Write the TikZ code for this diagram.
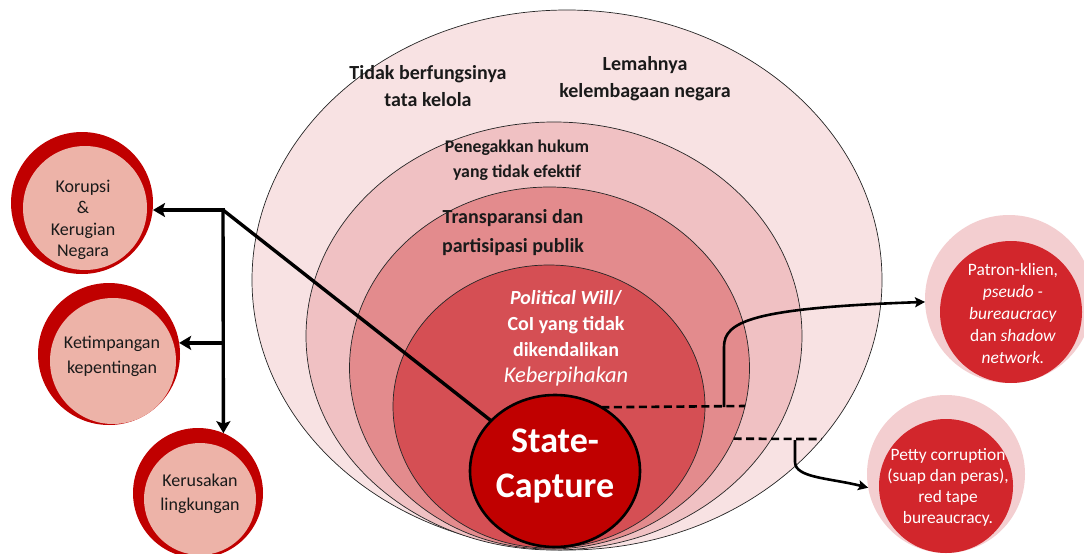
\documentclass[tikz,border=0pt]{standalone}
\usepackage{fontspec}
\setmainfont{Carlito}
\usetikzlibrary{shapes.geometric,arrows.meta}
\definecolor{eA}{HTML}{F8E2E3}
\definecolor{eB}{HTML}{F0C1C3}
\definecolor{eC}{HTML}{E38B8D}
\definecolor{eD}{HTML}{D54F54}
\definecolor{capred}{HTML}{C00000}
\definecolor{salmon}{HTML}{EDB3A8}
\definecolor{pinkring}{HTML}{F3CED0}
\definecolor{redcore}{HTML}{D2262C}
\definecolor{txt}{HTML}{1A1A1A}
\begin{document}
\begin{tikzpicture}[x=1pt,y=-1pt,
  ring/.style={ellipse, draw=black!85, line width=0.7pt, inner sep=0pt, outer sep=0pt},
  disc/.style={circle, inner sep=0pt, outer sep=0pt},
  lbl/.style={align=center, inner sep=0pt, text=txt},
  bigarrow/.style={line width=3.4pt, -{Stealth[length=12pt,width=14pt,inset=2.5pt]}},
  smallarrow/.style={line width=2.6pt, -{Stealth[length=10pt,width=10pt,inset=2pt]}},
  dashline/.style={line width=2.6pt, dash pattern=on 8pt off 4.5pt}
]
\useasboundingbox (0,0) rectangle (1084,554);

% nested ellipses
\node[ring, fill=eA, minimum width=630pt, minimum height=540pt] (e1) at (567,280) {};
\node[ring, fill=eB, minimum width=496pt, minimum height=428pt] (e2) at (554,336) {};
\node[ring, fill=eC, minimum width=400pt, minimum height=362pt] (e3) at (549.5,368) {};
\node[ring, fill=eD, minimum width=312pt, minimum height=283pt] (e4) at (549,406.5) {};
\node[ellipse, draw=black, line width=2.6pt, fill=capred, inner sep=0pt, outer sep=0pt,
      minimum width=170pt, minimum height=152pt] (sc) at (555,471) {};

% texts in ellipses
\node[lbl, font=\fontsize{20}{27}\selectfont\bfseries] (t1) at (428,86) {Tidak berfungsinya\\tata kelola};
\node[lbl, font=\fontsize{20}{27}\selectfont\bfseries] (t2) at (645,79) {Lemahnya\\kelembagaan negara};
\node[lbl, font=\fontsize{17.8}{25}\selectfont\bfseries] (t3) at (517,160) {Penegakkan hukum\\yang tidak efektif};
\node[lbl, font=\fontsize{20}{29}\selectfont\bfseries] (t4) at (513,233) {Transparansi dan\\partisipasi publik};
\node[lbl, text=white, font=\fontsize{20}{26}\selectfont\bfseries] (t5) at (566,338)
  {\textit{Political Will}/\\CoI yang tidak\\dikendalikan\\{\fontsize{22.5}{27}\selectfont\mdseries\itshape Keberpihakan}};
\node[lbl, text=white, font=\fontsize{36}{45}\selectfont\bfseries] (t6) at (555,466) {State-\\Capture};

% left circles
\node[disc, fill=capred, minimum size=142pt] (k1) at (82,203) {};
\node[disc, fill=salmon, minimum size=124pt] (k1i) at (85,208) {};
\node[lbl, font=\fontsize{18}{21.5}\selectfont] (k1t) at (83,220) {Korupsi\\\&\\Kerugian\\Negara};

\node[disc, fill=capred, minimum size=142pt] (k2) at (109,354) {};
\node[disc, fill=salmon, minimum size=126pt] (k2i) at (113,361) {};
\node[lbl, font=\fontsize{18}{25}\selectfont] (k2t) at (112,356) {Ketimpangan\\kepentingan};

\node[disc, fill=capred, minimum size=130pt] (k3) at (198,493) {};
\node[disc, fill=salmon, minimum size=112pt] (k3i) at (200,499) {};
\node[lbl, font=\fontsize{18}{24}\selectfont] (k3t) at (200,494) {Kerusakan\\lingkungan};

% right circles
\node[disc, fill=pinkring, minimum size=168pt] (r1) at (1009,299) {};
\node[disc, fill=redcore, minimum size=142pt] (r1i) at (1011,312) {};
\node[lbl, text=white, font=\fontsize{17.4}{22}\selectfont] (r1t) at (1013,314)
  {Patron-klien,\\\textit{pseudo -}\\\textit{bureaucracy}\\dan \textit{shadow}\\\textit{network.}};

\node[disc, fill=pinkring, minimum size=158pt] (r2) at (946,474) {};
\node[disc, fill=redcore, minimum size=134pt] (r2i) at (946,486) {};
\node[lbl, text=white, font=\fontsize{17.4}{21}\selectfont] (r2t) at (948,487)
  {Petty corruption\\(suap dan peras),\\red tape\\bureaucracy.};

% left connectors
\coordinate (J) at (223,210);
\draw[line width=3.4pt] (J) -- (sc);
\draw[bigarrow, shorten <=-1.7pt] (J) -- (k1.east |- J);
\draw[bigarrow, shorten <=-1.7pt] (J) -- (k3.67);
\draw[bigarrow] (k2.9 -| J) -- (k2.9);

% right connectors
\coordinate (b1) at (724,407);
\coordinate (b2) at (795,440);
\draw[dashline] (sc.54) -- (e3.-11.3);
\draw[smallarrow] (b1) -- (724,347) .. controls (724,322) and (750,308) .. (r1.182);
\draw[dashline] (e3.-21.4) -- (e1.-32.2);
\draw[smallarrow] (b2) -- (795,462) .. controls (795,478) and (830,478) .. (r2.190);
\end{tikzpicture}
\end{document}
